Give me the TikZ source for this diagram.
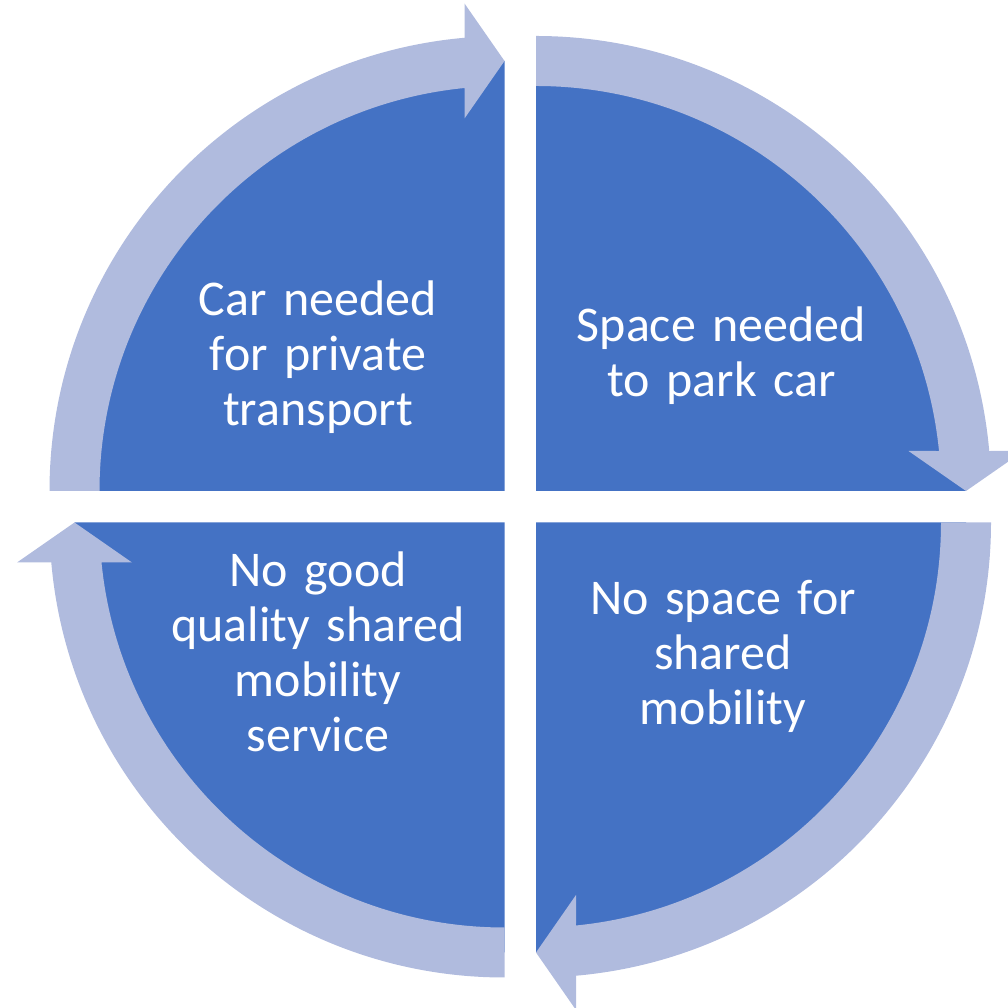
\documentclass[tikz,border=0pt]{standalone}
\usepackage{fontspec}
\setmainfont{Carlito}
\usetikzlibrary{calc}
\definecolor{darkblue}{RGB}{68,114,196}
\definecolor{lightarrow}{RGB}{176,187,222}
% #1 = centre coordinate, #2 = start angle (arrow runs clockwise by 90 degrees)
\newcommand\ringarrow[2]{%
  \fill[band] ($(#1)+(#2:455)$)
    arc[start angle=#2, end angle={#2-90+asin(40/455)}, radius=455]
    -- ($(#1)+({#2-90}:430)+(#2:40)+({#2-90}:57.5)$)
    -- ($(#1)+({#2-90}:430)$)
    -- ($(#1)+({#2-90}:430)+(#2:40)+({#2+90}:57.5)$)
    -- ($(#1)+({#2-90+asin(40/405)}:405)$)
    arc[start angle={#2-90+asin(40/405)}, end angle=#2, radius=405]
    -- cycle;}
\begin{document}
\begin{tikzpicture}[x=1pt,y=1pt,
  sector/.style={fill=darkblue,draw=none},
  band/.style={fill=lightarrow,draw=none},
  txt/.style={text=white,font=\fontsize{50}{55}\selectfont,align=center,
    text width=420pt,anchor=base,inner sep=0pt}]
\useasboundingbox (0,0) rectangle (1007,1008);
\coordinate (cTL) at (504.5,517);
\coordinate (cTR) at (536,517);
\coordinate (cBR) at (536,485.5);
\coordinate (cBL) at (504.5,485.5);
% sectors
\fill[sector] (cTL) -- ++(180:430) arc[start angle=180,end angle=90,radius=430] -- cycle;
\fill[sector] (cTR) -- ++(90:430) arc[start angle=90,end angle=0,radius=430] -- cycle;
\fill[sector] (cBR) -- ++(0:430) arc[start angle=0,end angle=-90,radius=430] -- cycle;
\fill[sector] (cBL) -- ++(-90:430) arc[start angle=-90,end angle=-180,radius=430] -- cycle;
% ring arrows
\ringarrow{cTL}{180}
\ringarrow{cTR}{90}
\ringarrow{cBR}{0}
\ringarrow{cBL}{-90}
% labels
\node[txt] (tl) at (318,692) {Car needed\\for private\\transport};
\node[txt] (tr) at (721.5,666.3) {Space needed\\to park car};
\node[txt] (bl) at (318,421.3) {No good\\quality shared\\mobility\\service};
\node[txt] (br) at (723,393) {No space for\\shared\\mobility};
\end{tikzpicture}
\end{document}
